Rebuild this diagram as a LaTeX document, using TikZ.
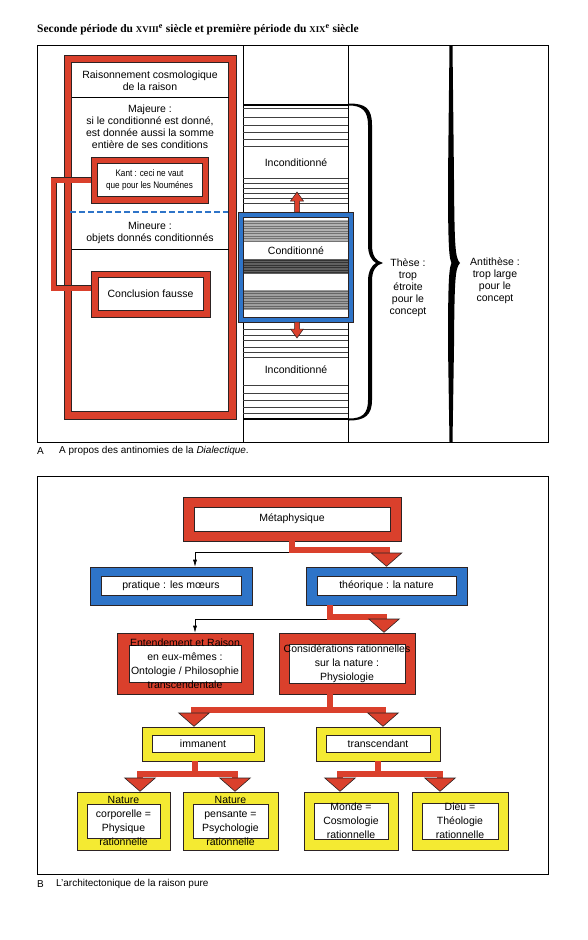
\documentclass[tikz,border=0pt]{standalone}
\usepackage{fontspec}
\setmainfont{Liberation Sans}
\newfontfamily\titrefont{Liberation Serif}
\newfontfamily\etroitefont{Liberation Sans}[FakeStretch=0.86]
\usetikzlibrary{calc,arrows.meta}
\definecolor{rouge}{RGB}{218,64,44}
\definecolor{bleu}{RGB}{46,116,200}
\definecolor{jaune}{RGB}{244,234,50}
\definecolor{trait}{RGB}{45,35,35}
\tikzset{
	cadre/.style n args={3}{draw=trait, line width=0.6pt, fill=#1, inner sep=0pt, align=center,
		path picture={\draw[draw=trait, line width=0.5pt, fill=white]
			([shift={(#2,-#3)}]path picture bounding box.north west) rectangle
			([shift={(-#2,#3)}]path picture bounding box.south east);}},
	boite/.style={font=\fontsize{10.5}{14}\selectfont},
	texte/.style={align=center, inner sep=0pt, font=\fontsize{10.5}{12}\selectfont},
	bande/.style={draw=trait, line width=0.6pt, double=rouge, double distance=5pt},
	grosse/.style={draw=rouge, line width=6pt, -{Triangle[width=32pt,length=14pt,line width=0.6pt,fill=rouge,color=trait]}},
	fine/.style={draw=black, line width=0.7pt, -{Latex[length=7pt,width=4pt]}},
	raye/.style={draw=black!75, line width=0.5pt},
}

\begin{document}
\begin{tikzpicture}[x=1pt, y=-1pt]
		%%%%% START %%%%%
		\useasboundingbox[fill=white] (0,0) rectangle (588,940);
		
		\node[anchor=west, inner sep=0pt, font=\titrefont\bfseries\fontsize{11.5}{13}\selectfont] (titre) at (37,30)
			{Seconde période du {\fontsize{8.8}{10}\selectfont XVIII}\textsuperscript{e} siècle et première période du {\fontsize{8.8}{10}\selectfont XIX}\textsuperscript{e} siècle};
		
		%%%%% A %%%%%
		\draw[line width=0.9pt] (37,45) rectangle (548,442);
		\draw[line width=0.8pt] (243,45) -- (243,442);
		\draw[line width=0.8pt] (348,45) -- (348,442);
		
		\foreach \y in {108,117,125,132,139,146,178,183,188,193,198,203,329,335,340,347,352,357,385,393,400,407,413}
			\draw[raye] (243,\y) -- (348,\y);
		\draw[line width=1.6pt] (243,105) -- (348,105);
		\draw[line width=1.6pt] (243,419) -- (348,419);
		
		\fill[black!30] (243,220) rectangle (348,242);
		\fill[black!62] (243,259) rectangle (348,274);
		\fill[black!38] (243,290) rectangle (348,310);
		\foreach \y in {221,223.5,...,241} \draw[black!55, line width=0.4pt] (243,\y) -- (348,\y);
		\foreach \y in {260,262.5,...,273} \draw[black!80, line width=0.4pt] (243,\y) -- (348,\y);
		\foreach \y in {291,293.5,...,309} \draw[black!60, line width=0.4pt] (243,\y) -- (348,\y);
		
		\node[texte] (incond1) at (296,163) {Inconditionné};
		\node[texte] (cond) at (296,251) {Conditionné};
		\node[texte] (incond2) at (296,370) {Inconditionné};
		
		\draw[fill=bleu, draw=trait, line width=0.6pt, even odd rule] (238,212) rectangle (353,322) (243,217) rectangle (348,317);
		
		\draw[fill=rouge, draw=trait, line width=0.5pt] (294.5,212) -- (294.5,201) -- (290.5,201) -- (297,192) -- (303.5,201) -- (299.5,201) -- (299.5,212) -- cycle;
		\draw[fill=rouge, draw=trait, line width=0.5pt] (294.5,322) -- (294.5,329) -- (290.5,329) -- (297,338) -- (303.5,329) -- (299.5,329) -- (299.5,322) -- cycle;
		
		% accolades
		\fill (349,103.5) .. controls (365,103.5) and (372,108) .. (372,125) -- (372,245) .. controls (372,256) and (376,261) .. (383,263)
			.. controls (376,265) and (372,270) .. (372,281) -- (372,400) .. controls (372,415) and (365,420.5) .. (349,420.5)
			-- (349,418.5) .. controls (362,418.5) and (368,414) .. (368,400) -- (368,281) .. controls (368,271) and (372,265) .. (376,263)
			.. controls (372,261) and (368,255) .. (368,245) -- (368,125) .. controls (368,111) and (362,105.5) .. (349,105.5) -- cycle;
		\fill (449.5,45) -- (452.5,45) -- (454,180) .. controls (454.5,245) and (455,258) .. (460,263)
			.. controls (455,268) and (454.5,281) .. (454,346) -- (452.5,442) -- (449.5,442) -- (448,346)
			.. controls (448,281) and (449,268) .. (451.5,263) .. controls (449,258) and (448,245) .. (448,180) -- cycle;
		
		\node[texte] (these) at (408,287.5) {Thèse :\\trop\\étroite\\pour le\\concept};
		\node[texte] (antithese) at (495,281) {Antithèse :\\trop large\\pour le\\concept};
		
		\node[cadre={rouge}{7.5pt}{7.5pt}, minimum width=172pt, minimum height=364pt] (raison) at (150,237) {};
		\node[texte] (raisonnement) at (150,81) {Raisonnement cosmologique\\de la raison};
		\draw[line width=0.6pt] (72,97) -- (229,97);
		\node[texte] (majeure) at (150,126.5) {Majeure :\\si le conditionné est donné,\\est donnée aussi la somme\\entière de ses conditions};
		\draw[bleu, line width=2pt, dash pattern=on 6pt off 3pt] (70,212) -- (228,212);
		\node[texte] (mineure) at (150,233) {Mineure :\\objets donnés conditionnés};
		\draw[line width=0.6pt] (72,249) -- (229,249);
		
		\node[cadre={rouge}{6pt}{6.5pt}, minimum width=117pt, minimum height=46pt, font=\etroitefont\fontsize{9.5}{12}\selectfont] (kant) at (149.5,180) {Kant : ceci ne vaut\\que pour les Nouménes};
		\node[cadre={rouge}{7pt}{6.5pt}, minimum width=119pt, minimum height=46pt, texte] (conclusion) at (150.5,294) {Conclusion fausse};
		\draw[bande] (kant.west) -- ++(-37,0) |- ([yshift=6pt]conclusion.west);
		
		\node[anchor=west, inner sep=0pt, font=\fontsize{10}{12}\selectfont] (lettreA) at (37,451) {A};
		\node[anchor=west, inner sep=0pt, font=\fontsize{10}{12}\selectfont] (legendeA) at (59,451) {A propos des antinomies de la \textit{Dialectique}.};
		
		%%%%% B %%%%%
		\draw[line width=0.9pt] (37,476) rectangle (548,874);
		
		\node[cadre={rouge}{11pt}{10pt}, boite, minimum width=218pt, minimum height=44pt] (meta) at (292,519) {Métaphysique};
		\node[cadre={bleu}{11pt}{9.5pt}, boite, minimum width=162pt, minimum height=38pt] (pratique) at (171,586) {pratique : les mœurs};
		\node[cadre={bleu}{11pt}{9.5pt}, boite, minimum width=161pt, minimum height=38pt] (theorique) at (386.5,586) {théorique : la nature};
		
		\node[cadre={rouge}{12pt}{12pt}, boite, minimum width=136pt, minimum height=61pt] (entendement) at (185,663.5) {Entendement et Raison\\en eux-mêmes :\\Ontologie / Philosophie\\transcendentale};
		\node[cadre={rouge}{10pt}{11pt}, boite, minimum width=136pt, minimum height=61pt] (considerations) at (347,663.5) {Considérations rationnelles\\sur la nature :\\Physiologie};
		
		\node[cadre={jaune}{10pt}{8.5pt}, boite, minimum width=122pt, minimum height=34pt] (immanent) at (203,744) {immanent};
		\node[cadre={jaune}{10pt}{8.5pt}, boite, minimum width=124pt, minimum height=34pt] (transcendant) at (378,744) {transcendant};
		
		\node[cadre={jaune}{10pt}{12pt}, boite, minimum width=93pt, minimum height=58pt] (natcorp) at (123.5,821) {Nature\\corporelle =\\Physique\\rationnelle};
		\node[cadre={jaune}{10pt}{12pt}, boite, minimum width=95pt, minimum height=58pt] (natpens) at (230.5,821) {Nature\\pensante =\\Psychologie\\rationnelle};
		\node[cadre={jaune}{10pt}{11pt}, boite, minimum width=94pt, minimum height=58pt] (monde) at (351,821) {Monde =\\Cosmologie\\rationnelle};
		\node[cadre={jaune}{10pt}{11pt}, boite, minimum width=96pt, minimum height=58pt] (dieu) at (460,821) {Dieu =\\Théologie\\rationnelle};
		
		\draw[fine] (meta.south) -- ++(0,11) -| ([xshift=24pt]pratique.north);
		\draw[grosse] (meta.south) -- ++(0,9) -| (theorique.north);
		\draw[fine] ([xshift=-57pt]theorique.south) -- ++(0,14) -| ([xshift=10pt]entendement.north);
		\draw[grosse] ([xshift=-57pt]theorique.south) -- ++(0,12) -| ([xshift=37pt]considerations.north);
		\draw[grosse] ([xshift=-17pt]considerations.south) -- ++(0,16) -| ([xshift=-9pt]immanent.north);
		\draw[grosse] ([xshift=-17pt]considerations.south) -- ++(0,16) -| ([xshift=5pt]transcendant.north);
		\draw[grosse] ([xshift=-8pt]immanent.south) -- ++(0,13) -| ([xshift=16.5pt]natcorp.north);
		\draw[grosse] ([xshift=-8pt]immanent.south) -- ++(0,13) -| ([xshift=4.5pt]natpens.north);
		\draw[grosse] (transcendant.south) -- ++(0,13) -| ([xshift=-11pt]monde.north);
		\draw[grosse] (transcendant.south) -- ++(0,13) -| ([xshift=-20pt]dieu.north);
		
		\node[anchor=west, inner sep=0pt, font=\fontsize{10}{12}\selectfont] (lettreB) at (37,884) {B};
		\node[anchor=west, inner sep=0pt, font=\fontsize{10}{12}\selectfont] (legendeB) at (56,884) {L'architectonique de la raison pure};
		%%%%% END %%%%%
\end{tikzpicture}
\end{document}
